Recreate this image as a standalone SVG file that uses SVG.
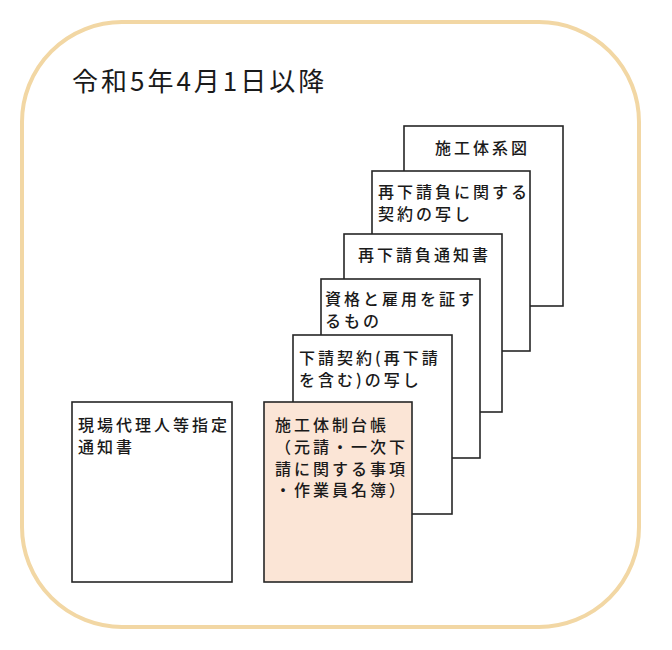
<svg xmlns="http://www.w3.org/2000/svg" width="672" height="650" viewBox="0 0 672 650">
<style>
.doc{fill:#ffffff;stroke:#262626;stroke-width:1.6}
.pink{fill:#fbe5d6}
.t{font-family:"Noto Sans CJK JP","Noto Sans",sans-serif;font-size:16px;letter-spacing:3px;fill:#1a1a1a;font-weight:500}
.title{font-family:"Noto Sans CJK JP","Noto Sans",sans-serif;font-size:26px;letter-spacing:3px;fill:#1a1a1a}
</style>
<rect x="22" y="22" width="617" height="605" rx="100" ry="100" fill="#ffffff" stroke="#f2d7a4" stroke-width="4"/>
<text class="title" x="72" y="91">令和5年4月1日以降</text>
<g id="connectors"></g>
<g id="doc-sekoutaikeizu">
<rect class="doc" x="404" y="126" width="159" height="180"/>
<text class="t" x="435" y="154">施工体系図</text>
</g>
<g id="doc-saishitauke-keiyaku">
<rect class="doc" x="372" y="171" width="158" height="180"/>
<text class="t" y="198"><tspan x="378">再下請負に関する</tspan><tspan x="378" dy="22">契約の写し</tspan></text>
</g>
<g id="doc-saishitauke-tsuchi">
<rect class="doc" x="344" y="234" width="158" height="178"/>
<text class="t" x="358" y="261">再下請負通知書</text>
</g>
<g id="doc-shikaku">
<rect class="doc" x="321" y="279" width="159" height="179"/>
<text class="t" y="305"><tspan x="325">資格と雇用を証す</tspan><tspan x="325" dy="22">るもの</tspan></text>
</g>
<g id="doc-shitauke-keiyaku">
<rect class="doc" x="293" y="335" width="159" height="179"/>
<text class="t" y="364"><tspan x="299">下請契約(再下請</tspan><tspan x="299" dy="22">を含む)の写し</tspan></text>
</g>
<g id="doc-sekoutaisei-daichou">
<rect class="doc pink" x="264" y="402" width="148" height="180"/>
<text class="t" y="431"><tspan x="275">施工体制台帳</tspan><tspan x="275" dy="21.8">（元請・一次下</tspan><tspan x="275" dy="21.8">請に関する事項</tspan><tspan x="275" dy="21.8">・作業員名簿）</tspan></text>
</g>
<g id="doc-genba-dairinin">
<rect class="doc" x="72" y="402" width="160" height="180"/>
<text class="t" y="431"><tspan x="78">現場代理人等指定</tspan><tspan x="78" dy="21.8">通知書</tspan></text>
</g>
</svg>
